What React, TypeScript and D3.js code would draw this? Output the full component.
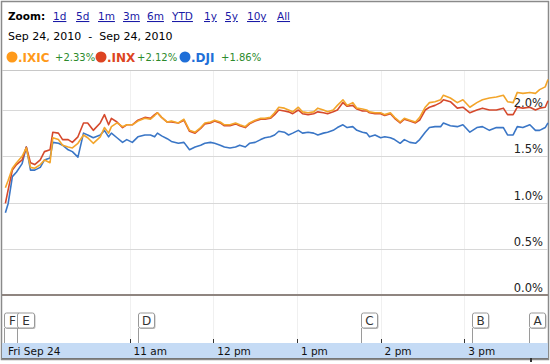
import React from "react";
import * as d3 from "d3";

// minutes after 9:30 am
const minutes = [1, 3, 6, 9, 13, 16, 19, 22, 26, 29, 33, 35, 39, 42, 46, 49, 53, 57, 60, 64, 69, 72, 75, 77, 81, 85, 88, 92, 96, 101, 105, 108, 110, 113, 117, 120, 125, 129, 133, 137, 141, 144, 148, 151, 155, 158, 162, 166, 169, 173, 176, 180, 184, 187, 191, 194, 197, 201, 204, 207, 211, 214, 218, 222, 225, 229, 232, 236, 239, 243, 246, 250, 253, 257, 260, 262, 266, 270, 273, 277, 280, 284, 287, 291, 295, 298, 302, 305, 309, 313, 315, 320, 325, 329, 334, 339, 343, 348, 353, 358, 361, 365, 368, 372, 377, 381, 384, 388, 390];

const ixic = [1.16, 1.24, 1.37, 1.43, 1.5, 1.59, 1.38, 1.37, 1.41, 1.46, 1.43, 1.7, 1.68, 1.62, 1.6, 1.59, 1.64, 1.73, 1.7, 1.64, 1.71, 1.81, 1.75, 1.82, 1.86, 1.82, 1.84, 1.84, 1.88, 1.91, 1.9, 1.94, 1.97, 1.92, 1.87, 1.88, 1.86, 1.9, 1.78, 1.76, 1.81, 1.86, 1.87, 1.89, 1.87, 1.84, 1.84, 1.86, 1.84, 1.82, 1.86, 1.89, 1.91, 1.91, 1.92, 1.97, 2.03, 2.02, 2.0, 1.98, 2.03, 1.98, 1.97, 1.98, 2.02, 2.0, 1.98, 2.0, 2.05, 2.11, 2.05, 2.08, 2.02, 2.01, 2.0, 1.98, 1.97, 1.97, 1.95, 1.97, 1.92, 1.87, 1.91, 1.89, 1.87, 1.92, 2.03, 2.08, 2.09, 2.11, 2.16, 2.13, 2.08, 2.11, 2.03, 2.08, 2.11, 2.13, 2.14, 2.16, 2.09, 2.08, 2.19, 2.18, 2.19, 2.18, 2.22, 2.25, 2.33];

const inx = [0.99, 1.14, 1.35, 1.41, 1.46, 1.6, 1.43, 1.41, 1.46, 1.55, 1.57, 1.76, 1.75, 1.68, 1.68, 1.65, 1.71, 1.86, 1.86, 1.78, 1.86, 1.95, 1.84, 1.91, 1.87, 1.81, 1.84, 1.84, 1.89, 1.92, 1.91, 1.95, 1.97, 1.92, 1.87, 1.87, 1.86, 1.89, 1.77, 1.75, 1.8, 1.85, 1.86, 1.88, 1.86, 1.83, 1.83, 1.85, 1.83, 1.81, 1.85, 1.88, 1.9, 1.9, 1.91, 1.95, 2.0, 1.99, 1.98, 1.96, 2.0, 1.96, 1.95, 1.96, 1.98, 1.97, 1.96, 1.98, 2.0, 2.08, 2.04, 2.05, 2.01, 1.99, 1.99, 1.97, 1.96, 1.96, 1.94, 1.96, 1.91, 1.86, 1.9, 1.88, 1.86, 1.89, 2.0, 2.03, 2.05, 2.08, 2.11, 2.09, 2.02, 2.03, 1.97, 2.0, 2.02, 2.0, 2.0, 2.02, 1.95, 1.95, 2.03, 2.02, 2.03, 2.0, 2.02, 2.03, 2.1];

const dji = [0.89, 0.99, 1.28, 1.33, 1.42, 1.6, 1.35, 1.35, 1.38, 1.46, 1.48, 1.65, 1.64, 1.62, 1.57, 1.55, 1.49, 1.75, 1.73, 1.7, 1.73, 1.78, 1.71, 1.75, 1.7, 1.65, 1.68, 1.65, 1.71, 1.73, 1.73, 1.71, 1.75, 1.72, 1.69, 1.66, 1.64, 1.65, 1.57, 1.6, 1.62, 1.64, 1.65, 1.64, 1.62, 1.6, 1.59, 1.6, 1.62, 1.6, 1.64, 1.65, 1.68, 1.7, 1.71, 1.73, 1.77, 1.76, 1.73, 1.75, 1.78, 1.75, 1.76, 1.75, 1.73, 1.75, 1.76, 1.78, 1.81, 1.84, 1.81, 1.82, 1.78, 1.76, 1.75, 1.71, 1.73, 1.7, 1.71, 1.7, 1.68, 1.64, 1.68, 1.65, 1.64, 1.68, 1.76, 1.81, 1.82, 1.82, 1.86, 1.83, 1.82, 1.84, 1.76, 1.81, 1.82, 1.78, 1.81, 1.81, 1.73, 1.73, 1.82, 1.81, 1.84, 1.78, 1.78, 1.81, 1.86];

const yTicks = [0, 0.5, 1.0, 1.5, 2.0];
const yTickLabels = ["0.0%", "0.5%", "1.0%", "1.5%", "2.0%"];
const hourMinutes = [90, 150, 210, 270, 330];
const hourLabels = ["11 am", "12 pm", "1 pm", "2 pm", "3 pm"];
const zoomLinks = ["1d", "5d", "1m", "3m", "6m", "YTD", "1y", "5y", "10y", "All"];
const zoomLinkX = [53, 76, 98, 123, 147, 172, 204, 225, 247, 277];
const flagLetters = ["F", "E", "D", "C", "B", "A"];
const flagMinutes = [0, 9.3, 96, 256, 335.5, 376.5];

const series = [
  { name: ".DJI", change: "+1.86%", values: dji, color: "#3a76c6", dot: "#1f6fd8" },
  { name: ".INX", change: "+2.12%", values: inx, color: "#d5492c", dot: "#dd4422" },
  { name: ".IXIC", change: "+2.33%", values: ixic, color: "#f3a52a", dot: "#ff9a1a" },
];
const legendOrder = [2, 1, 0];
const legendX = [7, 96, 180];

export default function App() {
  const font = "DejaVu Sans, Verdana, sans-serif";
  const x = d3.scaleLinear().domain([0, 390]).range([4, 548]);
  const y = d3.scaleLinear().domain([0, 2]).range([295, 110]);
  const line = d3
    .line<number>()
    .x((_, i) => x(minutes[i]))
    .y((d) => y(d))
    .curve(d3.curveLinear);

  return (
    <svg
      width={550}
      height={364}
      style={{ position: "absolute", left: 0, top: 0, background: "#fff" }}
      fontFamily={font}
    >
      <rect x={0} y={0} width={550} height={364} fill="#fff" />
      {/* outer frame */}
      <rect x={1.5} y={1.5} width={547} height={358} fill="none" stroke="#8a8a8a" strokeWidth={1.5} />

      {/* header */}
      <text x={8} y={20} fontSize={10.5} fontWeight="bold" fill="#000">Zoom:</text>
      {zoomLinks.map((l, i) => (
        <text key={l} x={zoomLinkX[i]} y={20} fontSize={10.5} fill="#1a1aa6" textDecoration="underline">
          {l}
        </text>
      ))}
      <text x={8} y={40} fontSize={11} fill="#000" xmlSpace="preserve">{"Sep 24, 2010  -  Sep 24, 2010"}</text>

      {legendOrder.map((si, k) => {
        const s = series[si];
        const lx = legendX[k];
        const nameW = s.name.length * 7;
        return (
          <g key={s.name}>
            <circle cx={lx + 5} cy={57} r={5.5} fill={s.dot} />
            <text x={lx + 11} y={61.5} fontSize={12} fontWeight="bold" fill={s.dot}>{s.name}</text>
            <text x={lx + 13 + nameW} y={61} fontSize={10} fill="#2c8a2c">{s.change}</text>
          </g>
        );
      })}

      {/* plot top line */}
      <line x1={2} x2={548} y1={70.5} y2={70.5} stroke="#c8c8c8" />

      {/* vertical gridlines */}
      {hourMinutes.map((m) => (
        <line key={m} x1={Math.round(x(m)) + 0.5} x2={Math.round(x(m)) + 0.5} y1={71} y2={343} stroke="#f0f0f0" />
      ))}

      {/* horizontal gridlines */}
      {yTicks.map((v) =>
        v === 0 ? (
          <line key={v} x1={2} x2={548} y1={y(v)} y2={y(v)} stroke="#8f8580" strokeWidth={2} />
        ) : (
          <line key={v} x1={2} x2={548} y1={Math.round(y(v)) + 0.5} y2={Math.round(y(v)) + 0.5} stroke="#d8d8d8" />
        )
      )}
      {yTicks.map((v, i) => (
        <text key={"l" + v} x={543} y={y(v) - 3} fontSize={11.5} textAnchor="end" fill="#222">
          {yTickLabels[i]}
        </text>
      ))}

      {/* series */}
      {series.map((s) => (
        <path key={s.name} d={line(s.values) || ""} fill="none" stroke={s.color} strokeWidth={1.6} strokeLinejoin="round" />
      ))}

      {/* axis band */}
      <rect x={2} y={343} width={546} height={15} fill="#c5dbf5" />
      <line x1={2} x2={548} y1={358.5} y2={358.5} stroke="#777" />
      <text x={8} y={355} fontSize={10.5} fill="#111">Fri Sep 24</text>
      {hourMinutes.map((m, i) => (
        <g key={"h" + m}>
          <line x1={Math.round(x(m)) + 0.5} x2={Math.round(x(m)) + 0.5} y1={339} y2={343} stroke="#333" />
          <text x={x(m) + 4} y={355} fontSize={10.5} fill="#111">{hourLabels[i]}</text>
        </g>
      ))}
      <rect x={530} y={358} width={2} height={4} fill="#333" />

      {/* flags */}
      {flagLetters.map((f, i) => {
        const fx = Math.round(x(flagMinutes[i])) + 0.5;
        const w = f === "E" ? 17 : 16;
        return (
          <g key={f}>
            <line x1={fx} x2={fx} y1={328} y2={343} stroke="#9a9a9a" />
            <rect x={fx + 1} y={314} width={w} height={15} rx={2} fill="#bbb" />
            <rect x={fx} y={313} width={w} height={15} rx={2} fill="#fff" stroke="#999" />
            <text x={fx + w / 2} y={325} fontSize={12} textAnchor="middle" fill="#333">{f}</text>
          </g>
        );
      })}
    </svg>
  );
}
